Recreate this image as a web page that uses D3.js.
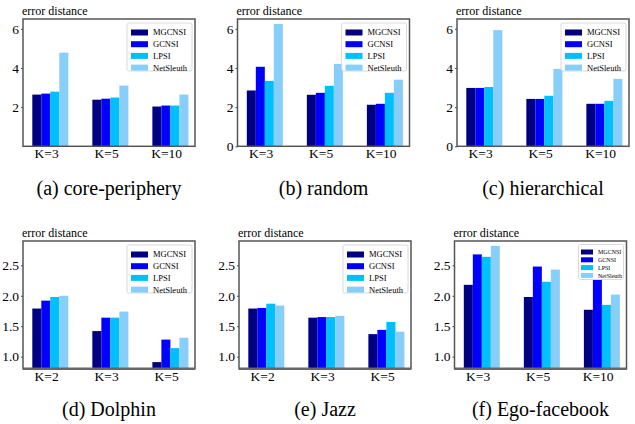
<!DOCTYPE html>
<html>
<head>
<meta charset="utf-8">
<script src="https://cdn.jsdelivr.net/npm/d3@7"></script>
<style>
  body { margin: 0; background: #fff; }
</style>
</head>
<body>
<div class="chart"></div>
<script>
"use strict";

const methods = ["MGCNSI", "GCNSI", "LPSI", "NetSleuth"];
const colors = ["#000080", "#0000ff", "#00bfff", "#87cefa"];

const kSynthetic = ["K=3", "K=5", "K=10"];
const kSmall = ["K=2", "K=3", "K=5"];

// one row per K, one value per method
const corePeriphery = [[2.64, 2.69, 2.79, 4.78], [2.38, 2.43, 2.49, 3.10], [2.03, 2.08, 2.08, 2.64]];
const random = [[2.85, 4.06, 3.34, 6.25], [2.63, 2.73, 3.09, 4.21], [2.12, 2.17, 2.73, 3.40]];
const hierarchical = [[2.98, 2.98, 3.03, 5.93], [2.42, 2.42, 2.58, 3.95], [2.17, 2.17, 2.32, 3.44]];
const dolphin = [[1.79, 1.92, 1.98, 2.00], [1.42, 1.64, 1.64, 1.74], [0.91, 1.28, 1.14, 1.31]];
const jazz = [[1.79, 1.80, 1.87, 1.84], [1.64, 1.65, 1.65, 1.67], [1.37, 1.44, 1.57, 1.41]];
const egoFacebook = [[2.18, 2.68, 2.64, 2.82], [1.98, 2.48, 2.23, 2.43], [1.77, 2.26, 1.85, 2.02]];

const topTicks = [0, 2, 4, 6];
const bottomTicks = [1.0, 1.5, 2.0, 2.5];

const FONT = "'Liberation Serif', 'Times New Roman', serif";

window.onload = () => main();

function main() {
    const svg = d3.select(".chart")
        .append("svg")
        .attr("width", 635)
        .attr("height", 424)
        .attr("font-family", FONT);

    const panels = [
        { data: corePeriphery, cats: kSynthetic, caption: "(a) core-periphery", left: 23, top: 19, bottom: 146.3, ylim: [0, 6.5], ticks: topTicks.slice(1), fmt: d3.format("d"), small: false },
        { data: random, cats: kSynthetic, caption: "(b) random", left: 237.5, top: 19, bottom: 146.3, ylim: [0, 6.5], ticks: topTicks, fmt: d3.format("d"), small: false },
        { data: hierarchical, cats: kSynthetic, caption: "(c) hierarchical", left: 457, top: 19, bottom: 146.3, ylim: [0, 6.5], ticks: topTicks, fmt: d3.format("d"), small: false },
        { data: dolphin, cats: kSmall, caption: "(d) Dolphin", left: 23, top: 241, bottom: 368.8, ylim: [0.8, 2.9], ticks: bottomTicks, fmt: d3.format(".1f"), small: false },
        { data: jazz, cats: kSmall, caption: "(e) Jazz", left: 239, top: 241, bottom: 368.8, ylim: [0.8, 2.9], ticks: bottomTicks, fmt: d3.format(".1f"), small: false },
        { data: egoFacebook, cats: kSynthetic, caption: "(f) Ego-facebook", left: 454.5, top: 241, bottom: 368.8, ylim: [0.8, 2.9], ticks: bottomTicks, fmt: d3.format(".1f"), small: true }
    ];

    panels.forEach((p, i) => draw_panel(svg, p, i >= 3));
}

function draw_panel(svg, p, lowerRow) {
    const width = 172;
    const barW = 0.15;
    const x = d3.scaleLinear().domain([-0.455, 2.41]).range([p.left, p.left + width]);
    const y = d3.scaleLinear().domain(p.ylim).range([p.bottom, p.top]);
    const g = svg.append("g");

    // bars
    p.data.forEach((row, i) => {
        g.selectAll(null)
            .data(row)
            .enter()
            .append("rect")
            .attr("x", (d, j) => x(i - 0.3 + j * barW))
            .attr("width", x(barW) - x(0))
            .attr("y", d => y(d))
            .attr("height", d => y(p.ylim[0]) - y(d))
            .attr("fill", (d, j) => colors[j]);
    });

    // y axis
    const yAxis = g.append("g")
        .attr("transform", `translate(${p.left},0)`)
        .call(d3.axisLeft(y).tickValues(p.ticks).tickFormat(p.fmt).tickSize(2).tickPadding(2))
        .attr("font-family", FONT)
        .attr("font-size", 13.5);
    yAxis.select(".domain").remove();
    yAxis.selectAll(".tick line").attr("stroke", "#444");
    yAxis.selectAll("text").attr("fill", "#000");

    // x axis
    const xAxis = g.append("g")
        .attr("transform", `translate(0,${p.bottom})`)
        .call(d3.axisBottom(x).tickValues([-0.07, 0.93, 1.93]).tickFormat((d, i) => p.cats[i]).tickSize(0).tickPadding(2.5))
        .attr("font-family", FONT)
        .attr("font-size", 13.5);
    xAxis.select(".domain").remove();
    xAxis.selectAll("text").attr("fill", "#000");

    // frame
    g.append("rect")
        .attr("x", p.left)
        .attr("y", p.top)
        .attr("width", width)
        .attr("height", p.bottom - p.top)
        .attr("fill", "none")
        .attr("stroke", "#555")
        .attr("stroke-width", 1.5);
    if (lowerRow) {
        g.append("line")
            .attr("x1", p.left).attr("x2", p.left + width)
            .attr("y1", p.bottom).attr("y2", p.bottom)
            .attr("stroke", "#666")
            .attr("stroke-width", 2.5);
    }

    // ylabel
    g.append("text")
        .attr("x", p.left - 1)
        .attr("y", p.top - 4)
        .attr("font-size", 12)
        .text("error distance");

    // caption
    g.append("text")
        .attr("x", p.left + width / 2)
        .attr("y", lowerRow ? 416 : 195)
        .attr("text-anchor", "middle")
        .attr("font-size", 20)
        .text(p.caption);

    draw_legend(g, p, width);
}

function draw_legend(g, p, width) {
    const s = p.small
        ? { w: 45, h: 35, font: 6, patchW: 12, patchH: 5, row: 7.8, pad: 2.5, gap: 5 }
        : { w: 65, h: 48, font: 8.5, patchW: 17, patchH: 6, row: 11.7, pad: 4, gap: 5 };
    const lx = p.left + width - 3 - s.w;
    const ly = p.top + (p.small ? 3.5 : 4);
    const leg = g.append("g").attr("transform", `translate(${lx},${ly})`);

    leg.append("rect")
        .attr("width", s.w)
        .attr("height", s.h)
        .attr("rx", 2)
        .attr("fill", "#fff")
        .attr("fill-opacity", 0.85)
        .attr("stroke", "#d0d0d0")
        .attr("stroke-width", 0.8);

    const rows = leg.selectAll("g.row")
        .data(methods)
        .enter()
        .append("g")
        .attr("class", "row")
        .attr("transform", (d, i) => `translate(${s.pad},${s.pad + 2.5 + i * s.row})`);
    rows.append("rect")
        .attr("width", s.patchW)
        .attr("height", s.patchH)
        .attr("fill", (d, i) => colors[i]);
    rows.append("text")
        .attr("x", s.patchW + s.gap)
        .attr("y", s.patchH / 2)
        .attr("dy", "0.35em")
        .attr("font-size", s.font)
        .text(d => d);
}
</script>
</body>
</html>
